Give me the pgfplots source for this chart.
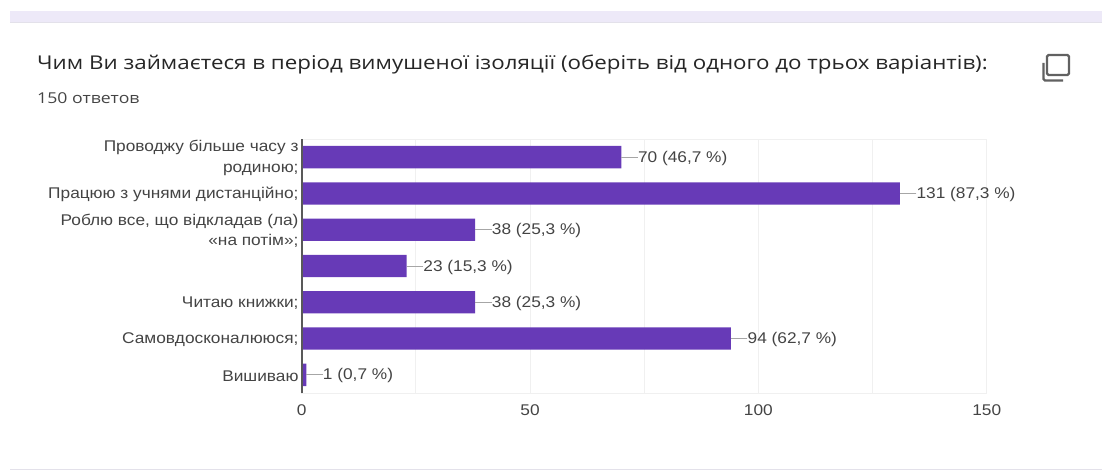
\documentclass[border=0pt]{standalone}
\usepackage{fontspec}
\setmainfont{Liberation Sans}
\newfontfamily\titlefont[FakeStretch=1.176]{Open Sans}
\newfontfamily\labfont[FakeStretch=1.114]{Liberation Sans}
\usepackage{pgfplots}
\pgfplotsset{compat=1.18}
\definecolor{barc}{HTML}{673AB7}
\definecolor{txt}{HTML}{444444}
\definecolor{gridc}{HTML}{F0F0F0}
\definecolor{band}{HTML}{EDE9F8}
\definecolor{rulec}{HTML}{E3E1EA}
\begin{document}
\begin{tikzpicture}[x=1pt,y=1pt]
\path[use as bounding box] (0,0) rectangle (1102,471);
\fill[band] (10,449) rectangle (1102,460);
\fill[rulec] (10,448) rectangle (1102,449);
\fill[rulec] (10,1.2) rectangle (1102,2.4);
\node[anchor=base west,inner sep=0pt,text=black!85] at (37,401.5) {\titlefont\fontsize{19}{22}\selectfont Чим Ви займаєтеся в період вимушеної ізоляції (оберіть від одного до трьох варіантів):};
\node[anchor=base west,inner sep=0pt,text=txt] at (37,367.5) {\titlefont\fontsize{15}{17}\selectfont 150 ответов};
\draw[draw=black!62,line width=2.4pt,rounded corners=1.5pt] (1047,416) rectangle (1069,396);
\draw[draw=black!62,line width=2.4pt,rounded corners=1.5pt] (1043.5,408) -- (1043.5,390.5) -- (1063,390.5);
\begin{axis}[
  at={(301.7pt,78pt)},anchor=south west,
  scale only axis,width=685pt,height=254pt,
  xmin=0,xmax=150,ymin=-0.5,ymax=6.5,y dir=reverse,
  xtick={0,50,100,150},minor xtick={25,75,125},
  ytick={0,1,2,3,4,5,6},
  yticklabels={{Проводжу більше часу з\\родиною;},{Працюю з учнями дистанційно;},{Роблю все, що відкладав (ла)\\«на потім»;},{},{Читаю книжки;},{Самовдосконалююся;},{Вишиваю}},
  yticklabel style={align=right,font=\labfont\fontsize{15.5}{20.5}\selectfont,text=txt,inner sep=0pt,xshift=-3pt,yshift=-1pt},
  xticklabel style={font=\labfont\fontsize{15.5}{18}\selectfont,text=txt,yshift=-8pt},
  /pgf/number format/assume math mode=true,
  major tick length=0pt,minor tick length=0pt,
  xmajorgrids,xminorgrids,major grid style={draw=gridc,line width=1pt},minor grid style={draw=gridc,line width=1pt},
  axis line style={draw=gridc,line width=1pt},
  xbar,bar width=22.3pt,
  point meta=explicit symbolic,
  nodes near coords,
  nodes near coords align={anchor=west},
  every node near coord/.append style={font=\labfont\fontsize{15.5}{18}\selectfont,text=txt,inner sep=0pt,xshift=16.5pt,yshift=-1pt},
  clip=false,
]
\addplot[fill=barc,draw=none,
  error bars/.cd,x dir=plus,x fixed=3.6,error mark=none,error bar style={draw=black!35,line width=1pt}]
 coordinates {
 (70,0) [70 (46,7 \%)]
 (131,1) [131 (87,3 \%)]
 (38,2) [38 (25,3 \%)]
 (23,3) [23 (15,3 \%)]
 (38,4) [38 (25,3 \%)]
 (94,5) [94 (62,7 \%)]
 (1,6) [1 (0,7 \%)]
 };
\draw[draw=black!65,line width=2pt] (axis description cs:0,0) -- (axis description cs:0,1);
\end{axis}
\end{tikzpicture}
\end{document}
